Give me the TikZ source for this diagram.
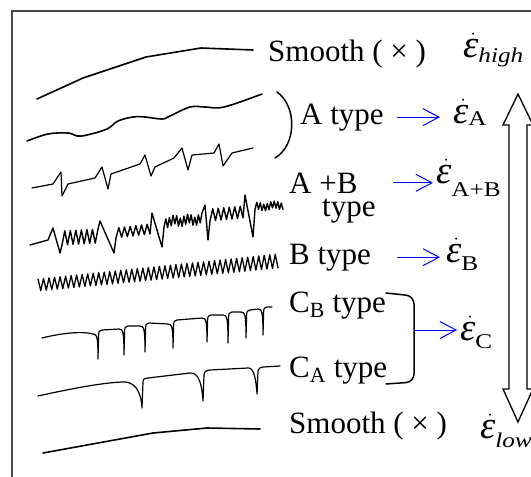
\documentclass[tikz,border=0pt]{standalone}
\usepackage{amsmath}
\usepackage{graphicx}
\usepackage{fontspec}
\setmainfont{Liberation Serif}
\usetikzlibrary{arrows.meta}

\tikzset{
  trace/.style={line width=1.6pt, line join=round, line cap=round},
  thintrace/.style={line width=1.2pt, line join=round, line cap=round},
  typetext/.style={font=\fontsize{31}{34}\selectfont, inner sep=0pt, anchor=base west},
  rate/.style={draw=blue, line width=1pt, -{Straight Barb[length=16pt,width=17pt]}},
  brace/.style={line width=1.5pt, line cap=round},
  frame/.style={draw=black!72, line width=2pt},
}
% strain rate with a lowered subscript
\newcommand{\erate}[2]{$\dot{\hbox{\scalebox{1.25}{\itshape ε}\kern5pt}}$\kern-5pt\raisebox{-#1pt}{\fontsize{21}{21}\selectfont\scalebox{1.2}[1]{#2}}}

\begin{document}
\begin{tikzpicture}[x=1pt, y=-1pt]
\useasboundingbox (0,0) rectangle (531,477);
\clip (0,0) rectangle (531,477);
\draw[frame] (12,495) |- (545,11);

% serrations
\draw[trace] (37,99) -- (83,78) -- (146,57) -- (201,48) -- (253,50);
\draw[trace] plot[smooth, tension=0.6] coordinates {(27,141) (48,134) (68,133) (77,136) (87,135)
  (107,129) (118,121) (133,117) (145,117) (162,119) (170,116) (190,107) (205,107) (224,107) (262,94)};
\draw[thintrace] (32,188) -- (53,184) -- (61,172) -- (62,196) -- (68,184) -- (95,178) -- (102,167)
  -- (108,189) -- (111,174) -- (140,164) -- (145,155) -- (151,176) -- (155,167) -- (174,158)
  -- (182,148) -- (188,170) -- (192,155) -- (214,153) -- (219,144) -- (223,166) -- (232,153) -- (253,148);
\draw[trace, line width=1.4pt] (30,245) -- (48,240) -- (53,228) -- (60,253)
  -- plot[domain=62:98, samples=14] (\x, {238-2*(\x-62)/36 + 7*cos(180/36*13*(\x-62))})
  -- (100,221) -- (114,253)
  -- plot[domain=116:150, samples=13] (\x, {233-4*(\x-116)/34 + 5*cos(180/34*12*(\x-116))})
  -- (152,213) -- (162,247)
  -- plot[domain=164:202, samples=22] (\x, {222-3*(\x-164)/38 + (2+4*abs(sin(\x*37)))*cos(180/38*21*(\x-164))})
  -- (205,205) -- (208,240)
  -- plot[domain=210:243, samples=13] (\x, {215-3*(\x-210)/33 + 6*cos(180/33*12*(\x-210))})
  -- (245,195) -- (253,237)
  -- plot[domain=255:283, samples=17] (\x, {207-2*(\x-255)/28 + (1.5+3*abs(sin(\x*41)))*cos(180/28*16*(\x-255))});
\draw[trace, line width=1.3pt] plot[domain=38:278, samples=88]
  (\x, {285-24*(\x-38)/240 - (6+(\x-38)/240)*cos(180/240*87*(\x-38))});
\draw[thintrace] (42,338) .. controls (62,333) and (82,331) .. (93,334)
  \foreach \xd/\ytop/\ybot/\yaft in {98/334/359/331, 124/329/355/327, 145/326/352/324, 173/324/348/321,
                                     207/318/342/316, 228/315/343/313, 246/312/338/311, 263/309/335/308}
  { -- (\xd-5,\ytop) .. controls (\xd-1,\ytop) and (\xd,\ytop+3) .. (\xd,\ybot)
    -- (\xd+0.6,\yaft+4) .. controls (\xd+1,\yaft) .. (\xd+4,\yaft-1) }
  -- (272,307);
\draw[thintrace] (38,396) .. controls (70,389) and (100,383) .. (122,382)
  .. controls (134,381) and (141,390) .. (142,408) -- (143,382) .. controls (143,379) .. (148,378)
  -- (190,373) .. controls (199,372) and (202,385) .. (203,401) -- (204,375) .. controls (205,371) .. (210,370)
  -- (248,368) .. controls (254,367) and (256,380) .. (257,394) -- (258,371) .. controls (259,368) .. (263,367)
  -- (280,366);
\draw[trace] (43,453) -- (153,433) -- (207,428) -- (260,429);

% labels
\node[typetext] (smoothhi) at (268,61) {Smooth ( × )};
\node[typetext] (epshi) at (463,57) {\erate{5}{\itshape high}};
\node[typetext] (atype) at (300,124) {A type};
\node[typetext] (epsA) at (453,123) {\erate{2}{A}};
\node[typetext] (abtype) at (289,193) {A +B};
\node[typetext] (abtype2) at (322,216) {type};
\node[typetext] (epsAB) at (436,183) {\erate{13}{A+B}};
\node[typetext] (btype) at (289,264) {B type};
\node[typetext] (epsB) at (446,262) {\erate{8}{B}};
\node[typetext] (cbtype) at (289,312) {C\textsubscript{B} type};
\node[typetext] (catype) at (289,377) {C\textsubscript{A} type};
\node[typetext] (epsC) at (460,340) {\erate{8}{C}};
\node[typetext] (smoothlo) at (289,433) {Smooth ( × )};
\node[typetext] (epslo) at (480,438) {\erate{9}{\itshape low}};

% brackets and arrows
\draw[brace] (277,92) .. controls (297,106) and (297,145) .. (275,158);
\draw[brace, rounded corners=8pt] (386,293) -- (414,296) -- (414,382) -- (386,384);
\coordinate (cbrace) at (414,330);
\draw[rate, shorten <=13pt, shorten >=13pt] (atype.east) -- (atype.east -| epsA.west);
\draw[rate, shorten <=35pt, shorten >=3pt] (abtype.east) -- (abtype.east -| epsAB.west);
\draw[rate, shorten <=26pt, shorten >=6pt] (btype.east) -- (btype.east -| epsB.west);
\draw[rate, shorten >=3pt] (cbrace) -- (cbrace -| epsC.west);
\draw[line width=1.3pt, fill=white, line join=miter] (518,94) -- (533,125) -- (527,125) -- (527,389)
  -- (533,389) -- (518,422) -- (503,389) -- (509,389) -- (509,125) -- (503,125) -- cycle;
\end{tikzpicture}
\end{document}
